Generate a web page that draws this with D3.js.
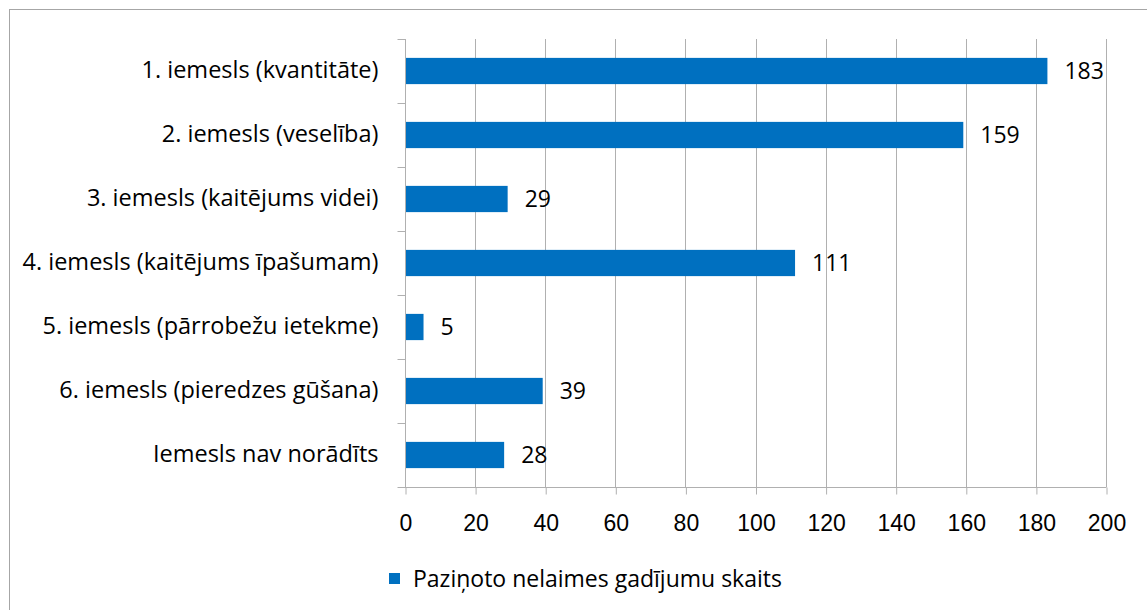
<!DOCTYPE html>
<html>
<head>
<meta charset="utf-8">
<style>
    body { margin: 0; background: white; }
    svg { display: block; font-family: "Open Sans", "Noto Sans", sans-serif; }
</style>
</head>
<body>
<svg width="1147" height="610"></svg>
<script src="https://cdn.jsdelivr.net/npm/d3@7"></script>
<script>
    var categories = [
        "1. iemesls (kvantitāte)",
        "2. iemesls (veselība)",
        "3. iemesls (kaitējums videi)",
        "4. iemesls (kaitējums īpašumam)",
        "5. iemesls (pārrobežu ietekme)",
        "6. iemesls (pieredzes gūšana)",
        "Iemesls nav norādīts"
    ];
    var values = [183, 159, 29, 111, 5, 39, 28];
    var xTicks = [0, 20, 40, 60, 80, 100, 120, 140, 160, 180, 200];
    var seriesName = "Paziņoto nelaimes gadījumu skaits";

    var svg = d3.select("svg");
    var barColor = "#0070c0";
    var gridColor = "#b0b0b0";

    // outer chart frame (right/bottom fall off the picture)
    svg.append("rect")
        .attr("x", 9.5).attr("y", 9.5)
        .attr("width", 1150).attr("height", 620)
        .attr("fill", "white")
        .attr("stroke", "#a6a6a6");

    var x = d3.scaleLinear().domain([0, 200]).range([405, 1106]);
    var y = d3.scaleBand().domain(categories).range([39, 487]).paddingInner(0.59).paddingOuter(0.295);
    var yOuter = d3.scaleBand().domain(categories).range([39, 487]);

    // vertical grid lines
    svg.append("g").selectAll("line")
        .data(xTicks.slice(1))
        .enter().append("line")
        .attr("x1", function(d) { return Math.round(x(d)) + 0.5; })
        .attr("x2", function(d) { return Math.round(x(d)) + 0.5; })
        .attr("y1", 39).attr("y2", 487)
        .attr("stroke", gridColor);

    // x axis
    var xAxis = svg.append("g")
        .attr("transform", "translate(0.5,487.5)")
        .call(d3.axisBottom(x).tickValues(xTicks).tickSize(7).tickPadding(20).tickSizeOuter(0));
    xAxis.select(".domain").attr("stroke", gridColor).attr("d", "M" + (x(0) - 8) + ",0H" + x(200));
    xAxis.selectAll(".tick line").attr("stroke", gridColor);
    xAxis.selectAll("text").attr("font-size", "23px").attr("fill", "#000");

    // y axis line + category boundary ticks
    var yg = svg.append("g").attr("transform", "translate(" + (Math.round(x(0)) + 0.5) + ",0)");
    yg.append("line").attr("y1", 39).attr("y2", 487).attr("stroke", gridColor);
    yg.selectAll("line.tk")
        .data(categories)
        .enter().append("line")
        .attr("class", "tk")
        .attr("x1", -8).attr("x2", 0)
        .attr("y1", function(d) { return Math.round(yOuter(d)) + 0.5; })
        .attr("y2", function(d) { return Math.round(yOuter(d)) + 0.5; })
        .attr("stroke", gridColor);

    yg.selectAll("text")
        .data(categories)
        .enter().append("text")
        .attr("x", -27)
        .attr("y", function(d) { return yOuter(d) + yOuter.bandwidth() / 2 - 1; })
        .attr("dy", "0.35em")
        .attr("text-anchor", "end")
        .attr("font-size", "23.5px")
        .attr("fill", "#000")
        .text(function(d) { return d; });

    // bars
    svg.append("g").selectAll("rect")
        .data(values)
        .enter().append("rect")
        .attr("x", x(0) + 1)
        .attr("y", function(d, i) { return y(categories[i]); })
        .attr("width", function(d) { return x(d) - x(0); })
        .attr("height", y.bandwidth())
        .attr("fill", barColor);

    // data labels
    svg.append("g").selectAll("text")
        .data(values)
        .enter().append("text")
        .attr("x", function(d) { return x(d) + 18; })
        .attr("y", function(d, i) { return y(categories[i]) + y.bandwidth() / 2; })
        .attr("dy", "0.35em")
        .attr("font-size", "23px")
        .attr("fill", "#000")
        .text(function(d) { return d; });

    // legend
    var lg = svg.append("g").attr("transform", "translate(389,573)");
    lg.append("rect").attr("width", 11).attr("height", 11).attr("fill", barColor);
    lg.append("text")
        .attr("x", 24).attr("y", 6)
        .attr("dy", "0.35em")
        .attr("font-size", "23px")
        .attr("fill", "#000")
        .text(seriesName);
</script>
</body>
</html>
